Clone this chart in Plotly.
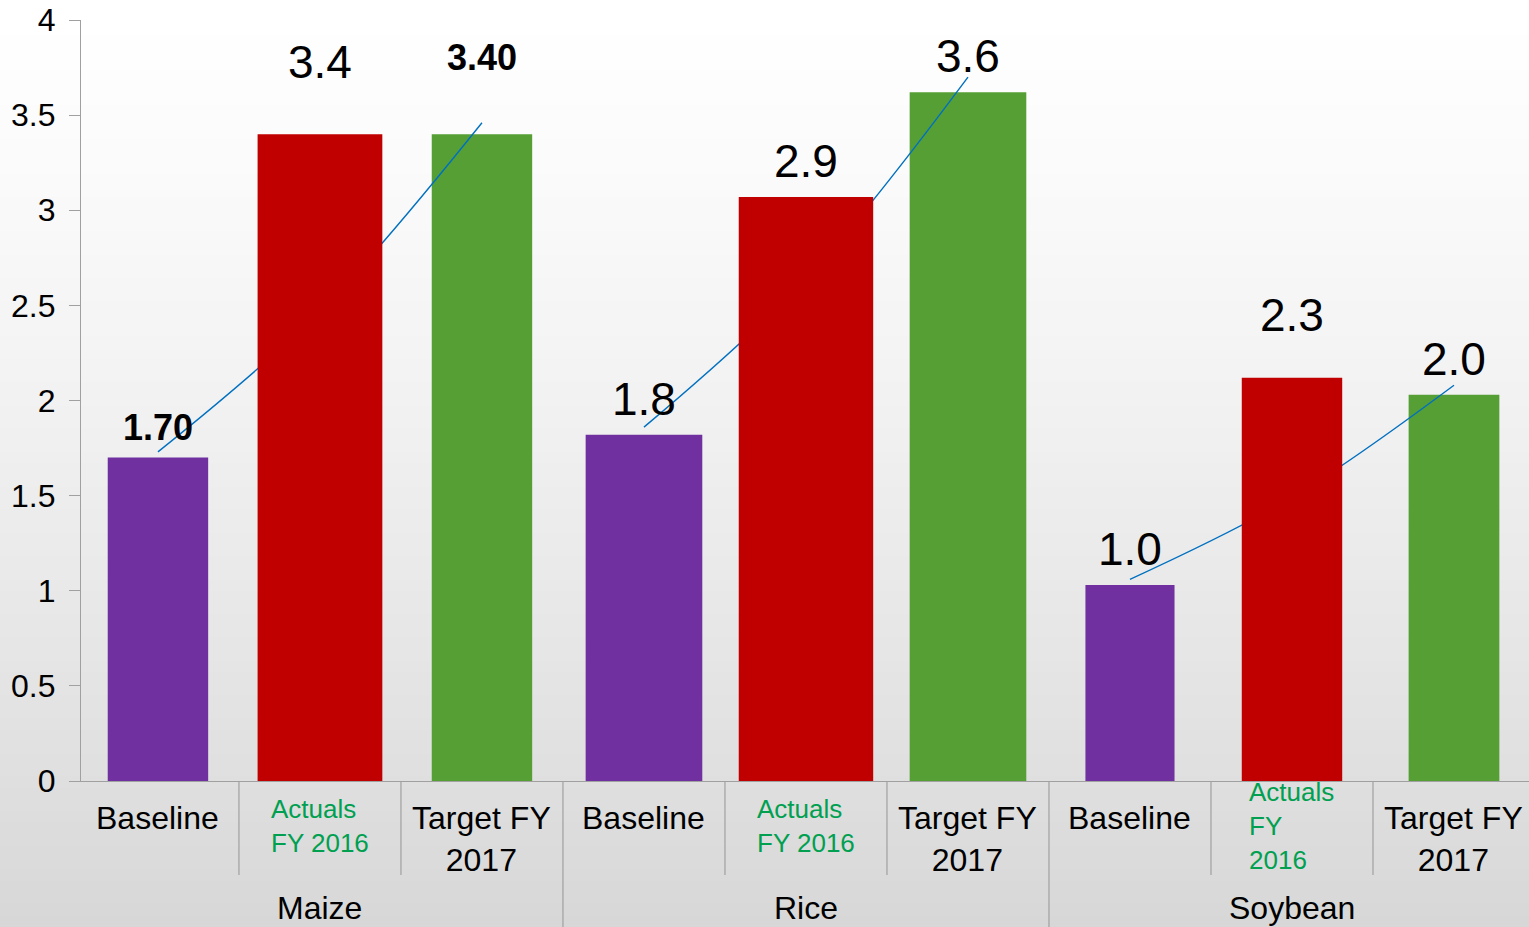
import plotly.graph_objects as go

# ---- data ----
crops = ["Maize", "Rice", "Soybean"]
baseline = [1.70, 1.82, 1.03]
actuals = [3.40, 3.07, 2.12]
target = [3.40, 3.62, 2.03]
baseline_labels = ["<b>1.70</b>", "1.8", "1.0"]
actuals_labels = ["3.4", "2.9", "2.3"]
target_labels = ["<b>3.40</b>", "3.6", "2.0"]
# thin blue trend curve (baseline -> actuals -> target)
trend = [[1.73, 2.47, 3.46], [1.86, 2.64, 3.70], [1.06, 1.49, 2.08]]
baseline_names = ["Baseline", "Baseline", "Baseline"]
actuals_names = ["Actuals<br>FY 2016", "Actuals<br>FY 2016", "Actuals<br>FY<br>2016"]
target_names = ["Target FY<br>2017", "Target FY<br>2017", "Target FY<br>2017"]

# ---- style ----
FONT = "Liberation Sans, Arial, sans-serif"
PURPLE, RED, GREEN = "#7030A0", "#C00000", "#559F35"
LABEL_GREEN = "#00A050"
w_base = [0.62, 0.72, 0.55]
w_act = [0.77, 0.83, 0.62]
w_tgt = [0.62, 0.72, 0.56]
# extra lift (px) of some value labels, as placed in the original slide
lift_base = [0, 0, 0]
lift_act = [36, 0, 27]
lift_tgt = [46, 0, 0]

n = len(crops)
pos_base = [3 * g for g in range(n)]
pos_act = [3 * g + 1 for g in range(n)]
pos_tgt = [3 * g + 2 for g in range(n)]

W, H = 1529, 927
ml, mr, mt, mb = 81, 0, 20, 146
pw, ph = W - ml - mr, H - mt - mb


def py(p):
    """pixel row -> paper y"""
    return (H - mb - p) / ph


fig = go.Figure()
fig.add_bar(x=pos_base, y=baseline, width=w_base, marker_color=PURPLE,
            marker_line_width=0, hoverinfo="skip", showlegend=False)
fig.add_bar(x=pos_tgt, y=target, width=w_tgt, marker_color=GREEN,
            marker_line_width=0, hoverinfo="skip", showlegend=False)

lx, ly = [], []
for g in range(n):
    lx += [3 * g, 3 * g + 1, 3 * g + 2, None]
    ly += trend[g] + [None]
fig.add_scatter(x=lx, y=ly, mode="lines",
                line=dict(color="#0070C0", width=1.4, shape="spline"),
                hoverinfo="skip", showlegend=False, connectgaps=False)

# red bars on an overlaid subplot so they cover the trend curve
fig.add_bar(x=pos_act, y=actuals, width=w_act, marker_color=RED,
            marker_line_width=0, hoverinfo="skip", showlegend=False,
            xaxis="x2", yaxis="y")

anns = []
# value labels
for xs, ys, labs, lifts in [(pos_base, baseline, baseline_labels, lift_base),
                            (pos_act, actuals, actuals_labels, lift_act),
                            (pos_tgt, target, target_labels, lift_tgt)]:
    for x, y, t, lf in zip(xs, ys, labs, lifts):
        size = 36 if t.startswith("<b>") else 46
        anns.append(dict(x=x, y=y, xref="x", yref="y", text=t, showarrow=False,
                         yanchor="bottom", xanchor="center", yshift=8 + lf,
                         font=dict(family=FONT, size=size, color="#000000")))

# category labels (first row)
for g in range(n):
    anns.append(dict(x=pos_base[g], y=py(798), xref="x", yref="paper",
                     text=baseline_names[g], showarrow=False, yanchor="top",
                     font=dict(family=FONT, size=32, color="#000000")))
    anns.append(dict(x=pos_act[g], y=py(826), xref="x", yref="paper",
                     text=actuals_names[g], showarrow=False, yanchor="middle",
                     align="left",
                     font=dict(family=FONT, size=26, color=LABEL_GREEN)))
    anns.append(dict(x=pos_tgt[g], y=py(798), xref="x", yref="paper",
                     text=target_names[g], showarrow=False, yanchor="top",
                     font=dict(family=FONT, size=32, color="#000000")))
    # group labels (second row)
    anns.append(dict(x=pos_act[g], y=py(908), xref="x", yref="paper", text=crops[g],
                     showarrow=False, yanchor="middle",
                     font=dict(family=FONT, size=32, color="#000000")))

# background gradient bands + category box lines
shapes = []
nb = 80
y_top = 1 + mt / ph
y_bot = -mb / ph
for i in range(nb):
    t0 = i / nb
    t1 = (i + 1) / nb
    tm = (t0 + t1) / 2
    v = int(round(255 - 40 * tm ** 1.3))
    col = f"rgb({v},{v},{v})"
    shapes.append(dict(type="rect", xref="paper", yref="paper",
                       x0=-ml / pw - 0.01, x1=1.01,
                       y0=y_top - t1 * (y_top - y_bot) - 0.001,
                       y1=y_top - t0 * (y_top - y_bot),
                       fillcolor=col, line_width=0, layer="below"))
for k in range(3 * n + 1):
    xb = k - 0.5
    full = (k % 3 == 0)
    shapes.append(dict(type="line", xref="x", yref="paper", x0=xb, x1=xb,
                       y0=0, y1=(y_bot - 0.01 if full else py(875)),
                       line=dict(color="#A0A0A0", width=1.2), layer="above"))

xr = [-0.475, 8.463]
fig.update_layout(
    width=W, height=H,
    margin=dict(l=ml, r=mr, t=mt, b=mb, autoexpand=False),
    paper_bgcolor="#E6E6E6",
    plot_bgcolor="rgba(0,0,0,0)",
    barmode="overlay",
    font=dict(family=FONT, color="#000000"),
    xaxis=dict(range=xr, showticklabels=False, ticks="",
               showgrid=False, zeroline=False, showline=True, linecolor="#A0A0A0",
               linewidth=1.2, automargin=False, fixedrange=True),
    xaxis2=dict(range=xr, overlaying="x", visible=False, fixedrange=True,
                automargin=False),
    yaxis=dict(range=[0, 4], dtick=0.5, tick0=0, ticks="outside", ticklen=11,
               tickcolor="#A0A0A0", showline=True, linecolor="#A0A0A0", linewidth=1.2,
               showgrid=False, zeroline=False, automargin=False,
               tickfont=dict(size=32, family=FONT, color="#000000"),
               ticklabelstandoff=7, fixedrange=True),
    shapes=shapes,
    annotations=anns,
)

fig.write_html(
    "out.html",
    config={"displayModeBar": False},
    post_script="document.body.style.margin='0px';document.body.style.overflow='hidden';",
)
